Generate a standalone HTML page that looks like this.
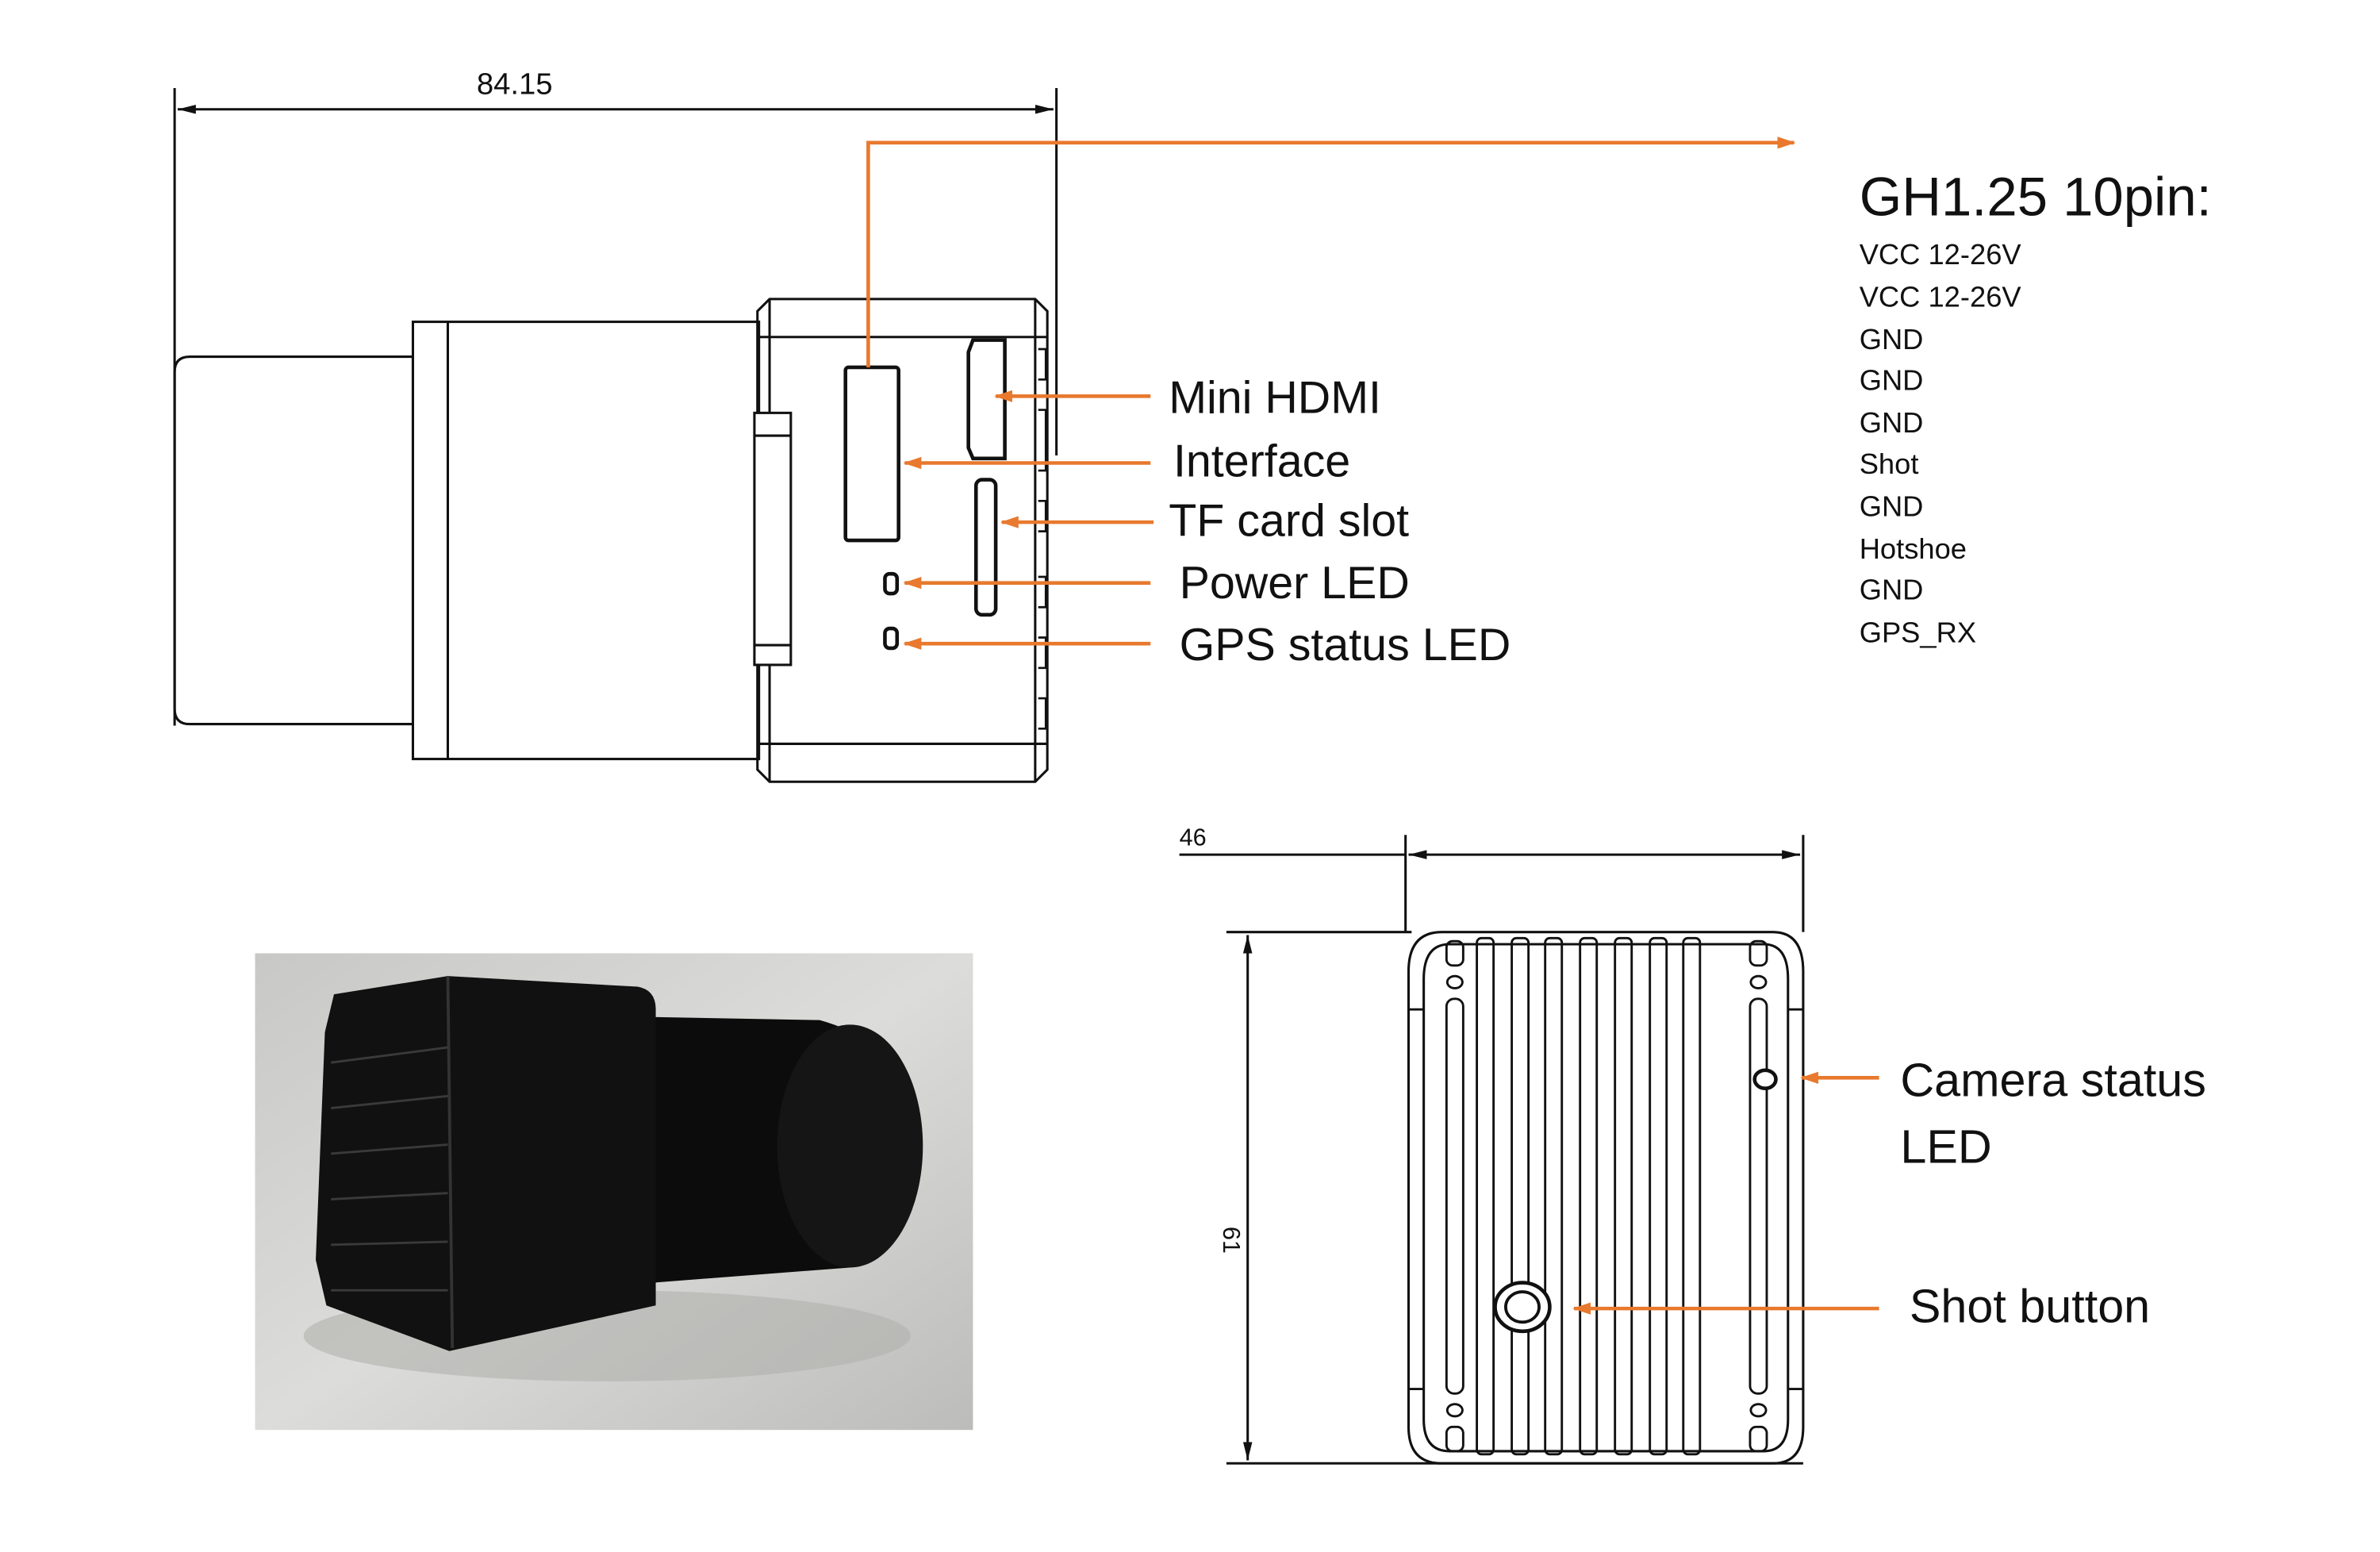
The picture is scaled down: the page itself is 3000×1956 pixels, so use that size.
<!DOCTYPE html>
<html><head><meta charset="utf-8"><style>
html,body{margin:0;padding:0;background:#fff}
svg{display:block}
text{font-family:"Liberation Sans","DejaVu Sans",sans-serif;fill:#111}
</style></head><body>
<svg width="3000" height="1956" viewBox="0 0 1568 1022.4" xmlns="http://www.w3.org/2000/svg">
<defs>
<marker id="b" markerWidth="12" markerHeight="8" refX="11" refY="4" orient="auto" markerUnits="userSpaceOnUse"><path d="M0,0 L12,4 L0,8 Z" fill="#e8792e"/></marker>
<marker id="d" markerWidth="12" markerHeight="6" refX="12" refY="3" orient="auto-start-reverse" markerUnits="userSpaceOnUse"><path d="M0,0 L12,3 L0,6 Z" fill="#111"/></marker>
<linearGradient id="bg" x1="0" y1="0" x2="1" y2="1"><stop offset="0" stop-color="#c8c8c6"/><stop offset="0.5" stop-color="#dcdcda"/><stop offset="1" stop-color="#bcbcba"/></linearGradient>
</defs>
<g fill="none" stroke="#111" stroke-width="1.6">
<line x1="115" y1="58" x2="115" y2="478"/>
<line x1="696" y1="58" x2="696" y2="300"/>
<line x1="117" y1="72" x2="694" y2="72" marker-start="url(#d)" marker-end="url(#d)"/>
<path d="M125,235 H272 V477 H125 Q115,477 115,467 V245 Q115,235 125,235 Z"/>
<rect x="272" y="212" width="228" height="288"/>
<line x1="295" y1="212" x2="295" y2="500"/>
<path d="M507,197 H682 L690,205 V507 L682,515 H507 L499,507 V205 Z"/>
<line x1="499" y1="222" x2="690" y2="222"/>
<line x1="499" y1="490" x2="690" y2="490"/>
<line x1="507" y1="197" x2="507" y2="515"/>
<line x1="682" y1="197" x2="682" y2="515"/>
<rect x="497" y="272" width="24" height="166" fill="#fff"/>
<line x1="497" y1="287" x2="521" y2="287"/>
<line x1="497" y1="425" x2="521" y2="425"/>
<rect x="557" y="242" width="35" height="114" rx="2" stroke-width="2.4"/>
<path d="M641,224 H662 V302 H641 L638,295 V232 Z" stroke-width="2.4"/>
<rect x="643" y="316" width="13" height="89" rx="4" stroke-width="2.4"/>
<rect x="583" y="378" width="8" height="13" rx="3" stroke-width="2.4"/>
<rect x="583" y="414" width="8" height="13" rx="3" stroke-width="2.4"/>
<path d="M684,230 h5 v20 h-5 M684,270 h5 v40 h-5 M684,330 h5 v20 h-5 M684,380 h5 v20 h-5 M684,420 h5 v20 h-5 M684,460 h5 v20 h-5" stroke-width="1.4"/>
<line x1="926" y1="550" x2="926" y2="614"/>
<line x1="1188" y1="550" x2="1188" y2="614"/>
<line x1="777" y1="563" x2="926" y2="563"/>
<line x1="928" y1="563" x2="1186" y2="563" marker-start="url(#d)" marker-end="url(#d)"/>
<line x1="808" y1="614" x2="930" y2="614"/>
<line x1="808" y1="964" x2="1188" y2="964"/>
<line x1="822" y1="616" x2="822" y2="962" marker-start="url(#d)" marker-end="url(#d)"/>
<path d="M950,614 H1168 Q1188,614 1188,640 V940 Q1188,964 1168,964 H950 Q928,964 928,940 V640 Q928,614 950,614 Z"/>
<path d="M955,622 H1162 Q1178,622 1178,645 V935 Q1178,956 1162,956 H955 Q938,956 938,935 V645 Q938,622 955,622 Z"/>
<g stroke-width="1.5">
<rect x="973" y="618" width="11" height="340" rx="3"/>
<rect x="996" y="618" width="11" height="340" rx="3"/>
<rect x="1018" y="618" width="11" height="340" rx="3"/>
<rect x="1041" y="618" width="11" height="340" rx="3"/>
<rect x="1064" y="618" width="11" height="340" rx="3"/>
<rect x="1087" y="618" width="11" height="340" rx="3"/>
<rect x="1109" y="618" width="11" height="340" rx="3"/>
<rect x="953" y="620" width="11" height="16" rx="4"/>
<rect x="1153" y="620" width="11" height="16" rx="4"/>
<rect x="953" y="940" width="11" height="16" rx="4"/>
<rect x="1153" y="940" width="11" height="16" rx="4"/>
<ellipse cx="958.5" cy="647" rx="5" ry="4"/>
<ellipse cx="1158.5" cy="647" rx="5" ry="4"/>
<ellipse cx="958.5" cy="929" rx="5" ry="4"/>
<ellipse cx="1158.5" cy="929" rx="5" ry="4"/>
<rect x="953" y="658" width="11" height="260" rx="5"/>
<rect x="1153" y="658" width="11" height="260" rx="5"/>
<line x1="928" y1="665" x2="938" y2="665"/><line x1="928" y1="915" x2="938" y2="915"/>
<line x1="1178" y1="665" x2="1188" y2="665"/><line x1="1178" y1="915" x2="1188" y2="915"/>
</g>
<ellipse cx="1163" cy="711" rx="7" ry="6" stroke-width="2.4" fill="#fff"/>
<ellipse cx="1003" cy="861" rx="18" ry="16" stroke-width="2.4" fill="#fff"/>
<ellipse cx="1003" cy="861" rx="11" ry="10" stroke-width="2"/>
</g>
<g stroke="#e8792e" stroke-width="2.4" fill="none">
<polyline points="572,242 572,94 1182,94" marker-end="url(#b)"/>
<line x1="758" y1="261" x2="656" y2="261" marker-end="url(#b)"/>
<line x1="758" y1="305" x2="596" y2="305" marker-end="url(#b)"/>
<line x1="760" y1="344" x2="660" y2="344" marker-end="url(#b)"/>
<line x1="758" y1="384" x2="596" y2="384" marker-end="url(#b)"/>
<line x1="758" y1="424" x2="596" y2="424" marker-end="url(#b)"/>
<line x1="1238" y1="710" x2="1187" y2="710" marker-end="url(#b)"/>
<line x1="1238" y1="862" x2="1037" y2="862" marker-end="url(#b)"/>
</g>
<rect x="168" y="628" width="473" height="314" fill="url(#bg)"/>
<ellipse cx="400" cy="880" rx="200" ry="30" fill="#b0b0ae" opacity="0.6"/>
<path d="M430,670 L540,672 Q605,690 605,755 Q605,825 560,835 L430,845 Z" fill="#0c0c0c"/>
<ellipse cx="560" cy="755" rx="48" ry="80" fill="#151515"/>
<path d="M220,655 L295,643 L420,650 Q432,652 432,665 L432,860 L296,890 L215,860 L208,830 L214,680 Z" fill="#111"/>
<path d="M295,643 L298,888" stroke="#333" stroke-width="2"/>
<g stroke="#3a3a3a" stroke-width="1.5"><line x1="218" y1="700" x2="295" y2="690"/><line x1="218" y1="730" x2="295" y2="722"/><line x1="218" y1="760" x2="295" y2="754"/><line x1="218" y1="790" x2="295" y2="786"/><line x1="218" y1="820" x2="295" y2="818"/><line x1="218" y1="850" x2="295" y2="850"/></g>
<text x="314" y="62" font-size="20">84.15</text>
<text x="770" y="272" font-size="30">Mini HDMI</text>
<text x="773" y="314" font-size="30">Interface</text>
<text x="770" y="353" font-size="30">TF card slot</text>
<text x="777" y="394" font-size="30">Power LED</text>
<text x="777" y="435" font-size="30">GPS status LED</text>
<text x="1225" y="142" font-size="36">GH1.25 10pin:</text>
<g font-size="19">
<text x="1225" y="174">VCC 12-26V</text>
<text x="1225" y="202">VCC 12-26V</text>
<text x="1225" y="230">GND</text>
<text x="1225" y="257">GND</text>
<text x="1225" y="285">GND</text>
<text x="1225" y="312">Shot</text>
<text x="1225" y="340">GND</text>
<text x="1225" y="368">Hotshoe</text>
<text x="1225" y="395">GND</text>
<text x="1225" y="423">GPS_RX</text>
</g>
<text x="777" y="557" font-size="16">46</text>
<text x="0" y="0" font-size="16" transform="translate(806,808) rotate(90)">61</text>
<text x="1252" y="722" font-size="31">Camera status</text>
<text x="1252" y="766" font-size="31">LED</text>
<text x="1258" y="871" font-size="31">Shot button</text>
</svg>
</body></html>
